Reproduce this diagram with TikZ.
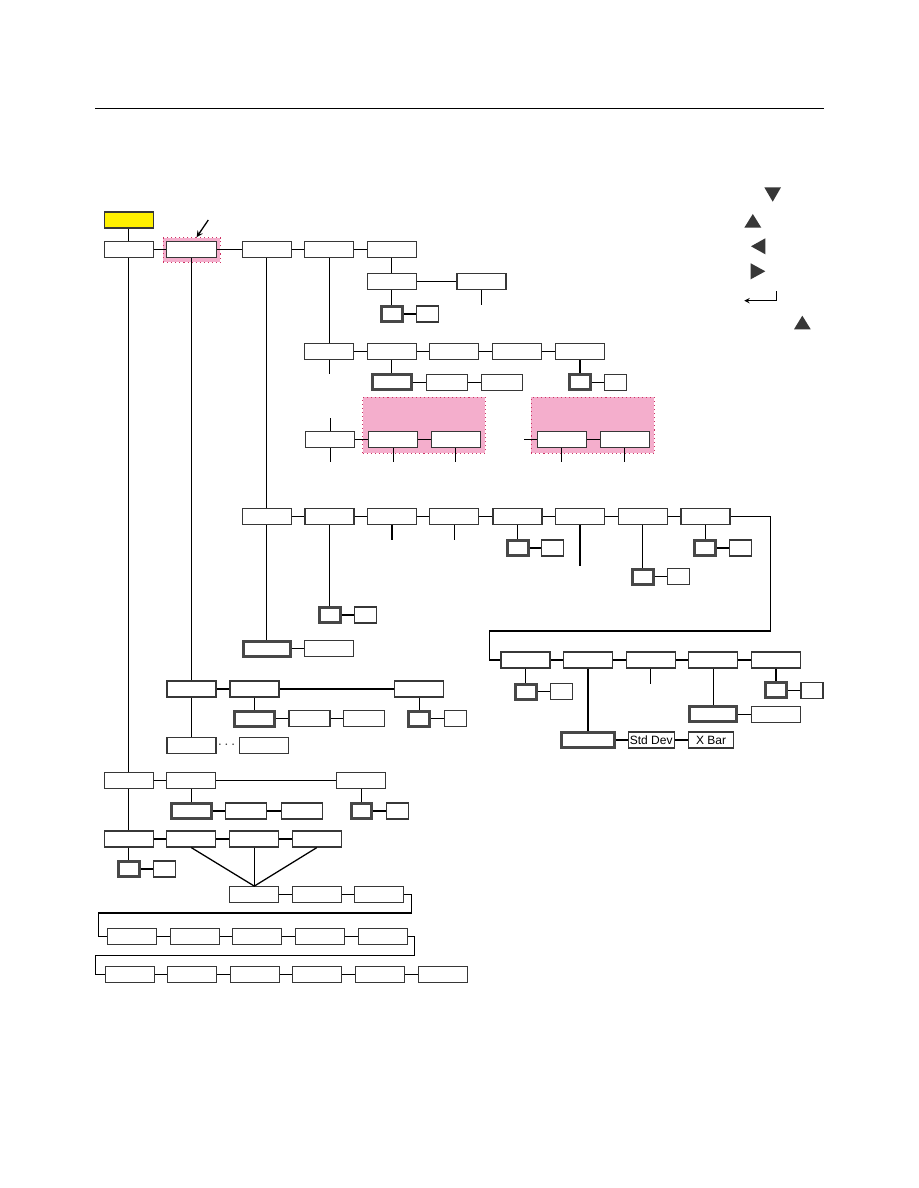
\documentclass[tikz,border=0pt]{standalone}
\usepackage{fontspec}
\setmainfont{Liberation Sans}
\definecolor{hlpink}{RGB}{244,174,204}
\definecolor{hlred}{RGB}{205,50,100}
\definecolor{keyyellow}{RGB}{255,240,0}
\definecolor{boxgray}{RGB}{55,55,55}
\tikzset{> = stealth,
  box/.style = {draw=boxgray, line width=0.8pt, fill=white, inner sep=0pt,
    minimum width=49*0.6667pt, minimum height=16*0.6667pt, font=\fontsize{8}{9}\selectfont},
  wd/.style = {minimum width=#1*0.6667pt},
  tbox/.style = {box, draw=black!72, line width=2pt, minimum height=15*0.6667pt},
  hilite/.style = {fill=hlpink, draw=hlred, dotted, line width=0.7pt, inner sep=0pt},
  link/.style = {line width=0.85pt}}

\begin{document}
\begin{tikzpicture}[x=0.6667pt, y=-0.6667pt]
\useasboundingbox (0,0) rectangle (918,1188);
\draw[line width=1pt] (95,108.3) -- (824,108.3); % header rule

% highlighted areas
\node[hilite, minimum width=57*0.6667pt, minimum height=24.6*0.6667pt] (hl1) at (191.7,250) {};
\node[hilite, minimum width=122.6*0.6667pt, minimum height=56*0.6667pt] (p1) at (424,425.3) {};
\node[hilite, minimum width=123*0.6667pt, minimum height=56*0.6667pt] (p2) at (592.8,425.3) {};

% nodes, top row
\node[box, fill=keyyellow] (key) at (128.8,220) {};
\node[box] (r1a) at (128.8,249.5) {};
\node[box, wd=50] (r1b) at (191.5,249.5) {};
\node[box] (r1c) at (266.7,249.5) {};
\node[box] (r1d) at (329.3,249.5) {};
\node[box] (r1e) at (391.7,249.5) {};
\node[box] (b1) at (391.7,281.7) {};
\node[box] (b2) at (481.5,281.7) {};
\node[tbox, wd=21] (t1) at (391.7,313.9) {};
\node[box, wd=22] (s1) at (427.2,313.9) {};

% nodes, second block
\node[box] (c1) at (329.3,351.7) {};
\node[box] (c2) at (391.7,351.7) {};
\node[box] (c3) at (454.3,351.7) {};
\node[box] (c4) at (517.3,351.7) {};
\node[box] (c5) at (579.9,351.7) {};
\node[tbox, wd=39] (t2) at (391.7,382.2) {};
\node[box, wd=41] (d1) at (447.3,382.2) {};
\node[box, wd=41] (d2) at (502.3,382.2) {};
\node[tbox, wd=21] (t3) at (579.9,382.2) {};
\node[box, wd=22] (s2) at (615.8,382.2) {};
\node[box] (e1) at (330.3,439.8) {};
\node[box] (e2) at (393.3,439.8) {};
\node[box] (e3) at (455.8,439.8) {};
\node[box] (e4) at (561.8,439.8) {};
\node[box] (e5) at (624.8,439.8) {};

% nodes, third block
\node[box] (f1) at (266.7,516.5) {};
\node[box] (f2) at (329.5,516.5) {};
\node[box] (f3) at (391.9,516.5) {};
\node[box] (f4) at (454.3,516.5) {};
\node[box] (f5) at (517.5,516.5) {};
\node[box] (f6) at (580,516.5) {};
\node[box] (f7) at (642.6,516.5) {};
\node[box] (f8) at (705.4,516.5) {};
\node[tbox, wd=21] (t5) at (517.5,548) {};
\node[box, wd=22] (s5) at (552.8,548) {};
\node[tbox, wd=21] (t7) at (705.4,548) {};
\node[box, wd=22] (s7) at (740.7,548) {};
\node[tbox, wd=21] (t6) at (642.6,576.7) {};
\node[box, wd=22] (s6) at (678.4,576.7) {};
\node[tbox, wd=21] (t4) at (329.5,615) {};
\node[box, wd=22] (s4) at (365.3,615) {};
\node[tbox, wd=47] (t8) at (266.7,648.5) {};
\node[box] (g1) at (329.3,648.5) {};

% nodes, continued row
\node[box] (h1) at (525.5,660) {};
\node[box] (h2) at (588,660) {};
\node[box] (h3) at (650.7,660) {};
\node[box] (h4) at (713.2,660) {};
\node[box] (h5) at (776,660) {};
\node[tbox, wd=21] (t9) at (525.5,691.7) {};
\node[box, wd=22] (s9) at (561.3,691.7) {};
\node[tbox, wd=21] (t12) at (776,690.2) {};
\node[box, wd=22] (s12) at (812,690.2) {};
\node[tbox, wd=47.4] (t11) at (713.2,714.3) {};
\node[box] (k2) at (776.2,714.3) {};
\node[tbox, wd=52.3] (t10) at (588,740) {};
\node[box, wd=46] (sd) at (651.2,740) {Std Dev};
\node[box, wd=45.6] (xb) at (711,740) {X Bar};

% nodes, highlighted column
\node[box] (i1) at (191.5,689) {};
\node[box] (i2) at (254.5,689) {};
\node[box] (i3) at (419.3,689) {};
\node[tbox, wd=39.3] (t13) at (254.5,718.5) {};
\node[box, wd=41] (j1) at (309.5,718.5) {};
\node[box, wd=41] (j2) at (364.3,718.5) {};
\node[tbox, wd=21] (t14) at (419.3,718.5) {};
\node[box, wd=22] (s14) at (455.5,718.5) {};
\node[box] (i4) at (191.5,745.8) {};
\node[text=boxgray] (dots) at (226.5,745.3) {$\cdots$};
\node[box] (i5) at (264.3,745.8) {};

% nodes, left column
\node[box] (l1) at (128.8,780.8) {};
\node[box] (l2) at (191.3,780.8) {};
\node[box] (l3) at (361.3,780.8) {};
\node[tbox, wd=39.7] (t15) at (191.3,811) {};
\node[box, wd=41] (m1) at (246.3,811) {};
\node[box, wd=41] (m2) at (302.2,811) {};
\node[tbox, wd=20.3] (t16) at (361.3,811) {};
\node[box, wd=22] (s16) at (397.3,811) {};
\node[box] (n1) at (128.8,839) {};
\node[box] (n2) at (191.3,839) {};
\node[box] (n3) at (254.3,839) {};
\node[box] (n4) at (316.8,839) {};
\node[tbox, wd=21] (t17) at (128.8,869) {};
\node[box, wd=22] (s17) at (164.8,869) {};
\node[box] (o1) at (254.3,894.7) {};
\node[box] (o2) at (317,894.7) {};
\node[box] (o3) at (379.3,894.7) {};
\node[box] (q1) at (132.3,936.8) {};
\node[box] (q2) at (195,936.8) {};
\node[box] (q3) at (257.3,936.8) {};
\node[box] (q4) at (320,936.8) {};
\node[box] (q5) at (383,936.8) {};
\node[box] (u1) at (129.7,974.8) {};
\node[box] (u2) at (192.3,974.8) {};
\node[box] (u3) at (255,974.8) {};
\node[box] (u4) at (317.3,974.8) {};
\node[box] (u5) at (379.8,974.8) {};
\node[box] (u6) at (443.2,974.8) {};

% bend points
\coordinate (ptr) at (208.3,220);
\coordinate (bend1) at (770.4,631);
\coordinate (bend2) at (489.3,631);
\coordinate (bend3) at (411.7,913);
\coordinate (bend4) at (98.3,913);
\coordinate (bend5) at (414.3,955.3);
\coordinate (bend6) at (95.7,955.3);

% edges
\draw[link]
(key) edge (r1a)
(r1a) edge (r1b)
(r1b) edge (r1c)
(r1c) edge (r1d)
(r1d) edge (r1e)
(r1e) edge (b1)
(b1) edge (b2)
(b1) edge (t1)
(t1) edge (s1)
(r1d) edge (c1)
(c1) edge (c2)
(c2) edge (c3)
(c3) edge (c4)
(c4) edge (c5)
(c2) edge (t2)
(t2) edge (d1)
(d1) edge (d2)
(c5) edge (t3)
(t3) edge (s2)
(e1) edge (e2)
(e2) edge (e3)
(e4) edge (e5)
(r1c) edge (f1)
(f1) edge (f2)
(f2) edge (f3)
(f3) edge (f4)
(f4) edge (f5)
(f5) edge (f6)
(f6) edge (f7)
(f7) edge (f8)
(f2) edge (t4)
(t4) edge (s4)
(f5) edge (t5)
(t5) edge (s5)
(f7) edge (t6)
(t6) edge (s6)
(f8) edge (t7)
(t7) edge (s7)
(f1) edge (t8)
(t8) edge (g1)
(h1) edge (h2)
(h2) edge (h3)
(h3) edge (h4)
(h4) edge (h5)
(h1) edge (t9)
(t9) edge (s9)
(h2) edge (t10)
(t10) edge (sd)
(sd) edge (xb)
(h4) edge (t11)
(t11) edge (k2)
(h5) edge (t12)
(t12) edge (s12)
(r1b) edge (i1)
(i1) edge (i2)
(i2) edge (i3)
(i1) edge (i4)
(i2) edge (t13)
(t13) edge (j1)
(j1) edge (j2)
(i3) edge (t14)
(t14) edge (s14)
(r1a) edge (l1)
(l1) edge (l2)
(l2) edge (l3)
(l2) edge (t15)
(t15) edge (m1)
(m1) edge (m2)
(l3) edge (t16)
(t16) edge (s16)
(l1) edge (n1)
(n1) edge (n2)
(n2) edge (n3)
(n3) edge (n4)
(n1) edge (t17)
(t17) edge (s17)
(n3) edge (o1)
(o1) edge (o2)
(o2) edge (o3)
(q1) edge (q2)
(q2) edge (q3)
(q3) edge (q4)
(q4) edge (q5)
(u1) edge (u2)
(u2) edge (u3)
(u3) edge (u4)
(u4) edge (u5)
(u5) edge (u6);

% fan and wrap-arounds
\draw[link] (n2.south) -- (o1.north) -- (n4.south);
\draw[link] (f8.east) -| (bend1) -- (bend2) |- (h1.west);
\draw[link] (o3.east) -| (bend3) -- (bend4) |- (q1.west);
\draw[link] (q5.east) -| (bend5) -- (bend6) |- (u1.west);
\draw[->, link] (ptr) -- ([xshift=3.3pt]hl1.north);

% open ends
\draw[link] (b2.south) -- ++(0,15);
\draw[link] (c1.south) -- ++(0,14);
\draw[link] (e1.north) -- ++(0,-13);
\draw[link] (e1.south) -- ++(0,14);
\draw[link] (e2.south) -- ++(0,14);
\draw[link] (e3.south) -- ++(0,14);
\draw[link] (e4.south) -- ++(0,14);
\draw[link] (e5.south) -- ++(0,14);
\draw[link] (e4.west) -- ++(-13,0);
\draw[link] (f3.south) -- ++(0,15);
\draw[link] (f4.south) -- ++(0,15);
\draw[link] (f6.south) -- ++(0,41);
\draw[link] (h3.south) -- ++(0,15);

% key symbols
\fill[boxgray] (764.3,187.3) -- (781,187.3) -- (772.7,201.7) -- cycle;
\fill[boxgray] (744.3,227.7) -- (761.3,227.7) -- (752.8,214) -- cycle;
\fill[boxgray] (765.3,238.3) -- (765.3,254.3) -- (751,246.3) -- cycle;
\fill[boxgray] (750.7,263.3) -- (750.7,279.3) -- (765.3,271.3) -- cycle;
\draw[->, line width=0.6pt] (776.7,291) -- (776.7,300.7) -- (744.3,300.7);
\fill[boxgray] (794,329.3) -- (810.7,329.3) -- (802.3,315.7) -- cycle;

\end{tikzpicture}
\end{document}
